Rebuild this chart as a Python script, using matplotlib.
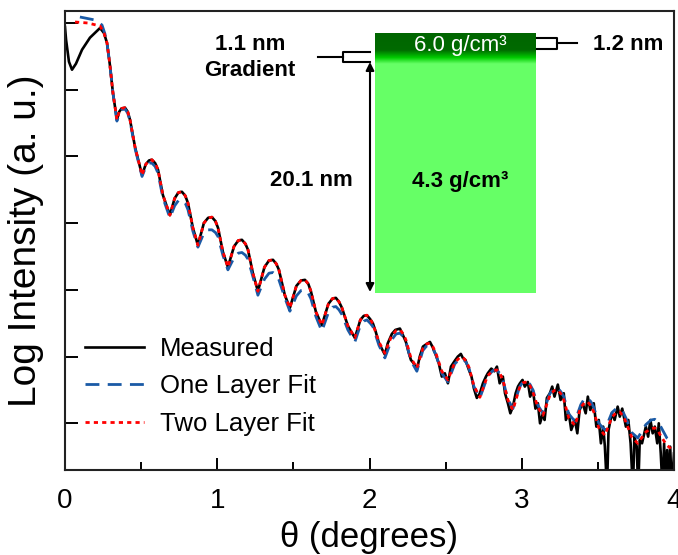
import numpy as np
import matplotlib
matplotlib.use("Agg")
import matplotlib.pyplot as plt
from matplotlib.colors import LinearSegmentedColormap

plt.rcParams['font.family'] = ['Liberation Sans', 'DejaVu Sans']

# angle grid shared by the fits (degrees)
fit_theta = [
    0.276, 0.295, 0.315, 0.341, 0.356, 0.372, 0.394, 0.412, 0.427, 0.460,
    0.506, 0.530, 0.552, 0.571, 0.592, 0.611, 0.643, 0.689, 0.720, 0.745,
    0.768, 0.790, 0.808, 0.840, 0.873, 0.912, 0.940, 0.965, 0.988, 1.005,
    1.037, 1.070, 1.110, 1.138, 1.162, 1.185, 1.202, 1.234, 1.267, 1.310,
    1.340, 1.366, 1.388, 1.405, 1.444, 1.477, 1.520, 1.550, 1.576, 1.598,
    1.615, 1.648, 1.687, 1.730, 1.757, 1.779, 1.800, 1.819, 1.858, 1.904,
    1.940, 1.962, 1.983, 2.005, 2.022, 2.062, 2.101, 2.145, 2.175, 2.200,
    2.222, 2.239, 2.272, 2.311, 2.350, 2.375, 2.397, 2.418, 2.436, 2.475,
    2.515, 2.560, 2.590, 2.613, 2.635, 2.653, 2.686, 2.725, 2.775, 2.810,
    2.837, 2.858, 2.876, 2.909, 2.942, 2.985, 3.010, 3.033, 3.055, 3.073,
    3.106, 3.139, 3.185, 3.212, 3.237, 3.258, 3.276, 3.309, 3.349, 3.388,
    3.412, 3.434, 3.455, 3.473, 3.506, 3.546, 3.592, 3.620, 3.644, 3.665,
    3.684, 3.723, 3.762, 3.815, 3.850, 3.874, 3.895, 3.913, 3.953, 3.992,
]
# log10 intensity of the two-layer fit
two_layer_log = [
    -0.30, -0.63, -1.05, -1.45, -1.33, -1.28, -1.27, -1.33, -1.45, -1.86,
    -2.28, -2.12, -2.06, -2.05, -2.10, -2.20, -2.58, -2.88, -2.63, -2.54,
    -2.53, -2.59, -2.70, -3.07, -3.33, -3.00, -2.92, -2.91, -2.97, -3.07,
    -3.43, -3.66, -3.35, -3.26, -3.25, -3.31, -3.40, -3.75, -4.02, -3.66,
    -3.56, -3.55, -3.61, -3.70, -4.08, -4.27, -3.94, -3.86, -3.85, -3.91,
    -4.02, -4.33, -4.53, -4.21, -4.13, -4.12, -4.18, -4.27, -4.54, -4.72,
    -4.45, -4.39, -4.38, -4.44, -4.51, -4.78, -4.95, -4.69, -4.61, -4.60,
    -4.66, -4.75, -5.02, -5.17, -4.88, -4.81, -4.80, -4.86, -4.95, -5.22,
    -5.35, -5.09, -5.02, -5.01, -5.07, -5.16, -5.44, -5.61, -5.29, -5.21,
    -5.20, -5.26, -5.35, -5.65, -5.80, -5.47, -5.39, -5.38, -5.44, -5.53,
    -5.76, -5.88, -5.58, -5.51, -5.50, -5.56, -5.65, -5.92, -6.03, -5.76,
    -5.69, -5.68, -5.74, -5.83, -6.07, -6.18, -5.91, -5.84, -5.83, -5.89,
    -5.98, -6.21, -6.30, -6.13, -6.08, -6.07, -6.11, -6.19, -6.33, -6.40,
]
# log10 intensity of the one-layer fit
one_layer_log = [
    -0.30, -0.63, -1.05, -1.47, -1.36, -1.30, -1.29, -1.35, -1.47, -1.88,
    -2.30, -2.16, -2.10, -2.10, -2.15, -2.25, -2.62, -2.92, -2.74, -2.66,
    -2.65, -2.70, -2.80, -3.12, -3.36, -3.15, -3.10, -3.10, -3.14, -3.20,
    -3.48, -3.70, -3.52, -3.45, -3.44, -3.48, -3.54, -3.80, -4.08, -3.84,
    -3.75, -3.74, -3.78, -3.85, -4.12, -4.32, -4.09, -4.01, -4.00, -4.05,
    -4.13, -4.40, -4.62, -4.34, -4.26, -4.25, -4.30, -4.37, -4.60, -4.78,
    -4.53, -4.47, -4.45, -4.50, -4.55, -4.83, -5.02, -4.75, -4.66, -4.65,
    -4.70, -4.77, -5.06, -5.22, -4.91, -4.84, -4.83, -4.89, -4.97, -5.25,
    -5.38, -5.11, -5.04, -5.03, -5.09, -5.17, -5.45, -5.62, -5.30, -5.21,
    -5.20, -5.26, -5.35, -5.64, -5.78, -5.46, -5.37, -5.36, -5.42, -5.50,
    -5.73, -5.85, -5.55, -5.48, -5.47, -5.53, -5.60, -5.86, -5.97, -5.72,
    -5.63, -5.62, -5.68, -5.76, -6.00, -6.10, -5.84, -5.78, -5.78, -5.83,
    -5.92, -6.14, -6.22, -6.02, -5.95, -5.94, -5.98, -6.05, -6.22, -6.30,
]
# low-angle part of each fit, before the shared grid
two_layer_start_theta = [0.066, 0.151, 0.230, 0.256]
two_layer_start_log = [0.015, 0.0, -0.045, -0.15]
one_layer_start_theta = [0.098, 0.197, 0.243, 0.262]
one_layer_start_log = [0.09, 0.045, -0.03, -0.16]

# measured data: below the critical angle, then the noisy tail above 2 deg
# (between these the measurement sits on the two-layer fit)
measured_start_theta = [0.000, 0.007, 0.026, 0.046, 0.072, 0.112, 0.164, 0.230, 0.256]
measured_start_log = [-0.06, -0.25, -0.58, -0.70, -0.61, -0.40, -0.22, -0.075, -0.15]
measured_tail_theta = [
    2.022, 2.040, 2.062, 2.080, 2.101, 2.120, 2.147, 2.170, 2.200, 2.220,
    2.239, 2.255, 2.272, 2.290, 2.311, 2.330, 2.351, 2.370, 2.397, 2.415,
    2.436, 2.455, 2.475, 2.495, 2.515, 2.535, 2.561, 2.580, 2.600, 2.613,
    2.630, 2.653, 2.670, 2.686, 2.705, 2.725, 2.745, 2.765, 2.777, 2.800,
    2.820, 2.837, 2.855, 2.876, 2.890, 2.909, 2.925, 2.942, 2.960, 2.975,
    2.988, 3.005, 3.020, 3.040, 3.055, 3.073, 3.090, 3.106, 3.120, 3.139,
    3.150, 3.165, 3.185, 3.200, 3.215, 3.237, 3.255, 3.276, 3.290, 3.309,
    3.325, 3.349, 3.365, 3.380, 3.400, 3.420, 3.434, 3.450, 3.473, 3.490,
    3.506, 3.520, 3.535, 3.546, 3.560, 3.570, 3.592, 3.610, 3.630, 3.644,
    3.660, 3.684, 3.700, 3.715, 3.730, 3.740, 3.755, 3.765, 3.775, 3.790,
    3.815, 3.830, 3.845, 3.860, 3.874, 3.890, 3.900, 3.913, 3.925, 3.935,
    3.945, 3.955, 3.965, 3.975, 3.985, 4.000,
]
measured_tail_log = [
    -4.50, -4.62, -4.80, -4.88, -4.97, -4.80, -4.66, -4.60, -4.58, -4.68,
    -4.78, -4.92, -5.05, -5.10, -5.20, -5.00, -4.85, -4.82, -4.78, -4.86,
    -4.98, -5.10, -5.30, -5.25, -5.40, -5.15, -5.06, -5.00, -4.96, -5.02,
    -5.05, -5.20, -5.30, -5.48, -5.62, -5.55, -5.40, -5.30, -5.25, -5.18,
    -5.22, -5.15, -5.40, -5.30, -5.55, -5.70, -5.85, -5.75, -5.55, -5.45,
    -5.40, -5.35, -5.45, -5.38, -5.60, -5.50, -5.78, -5.70, -6.00, -5.85,
    -5.95, -5.62, -5.55, -5.45, -5.60, -5.42, -5.65, -5.55, -5.95, -5.85,
    -6.10, -5.95, -6.15, -5.80, -5.70, -5.85, -5.60, -5.80, -5.70, -6.05,
    -5.95, -6.30, -6.05, -6.35, -7.00, -6.10, -5.85, -5.95, -5.75, -5.90,
    -5.78, -6.05, -5.95, -6.30, -7.00, -6.20, -6.35, -7.00, -6.25, -6.30,
    -6.05, -6.20, -5.95, -6.15, -6.05, -6.30, -6.00, -6.45, -7.00, -6.30,
    -7.00, -6.40, -7.00, -6.35, -7.00, -6.45,
]

series_labels = ["Measured", "One Layer Fit", "Two Layer Fit"]

fig = plt.figure(figsize=(6.78, 5.55), dpi=100)
ax = fig.add_axes([65 / 678, 1 - 470 / 555, 609 / 678, 459 / 555])

n_mid = sum(1 for t in fit_theta if t < 2.01)
meas_x = measured_start_theta + fit_theta[:n_mid] + measured_tail_theta
meas_y = 10.0 ** np.array(measured_start_log + two_layer_log[:n_mid] + measured_tail_log)
one_x = one_layer_start_theta + fit_theta
one_y = 10.0 ** np.array(one_layer_start_log + one_layer_log)
two_x = two_layer_start_theta + fit_theta
two_y = 10.0 ** np.array(two_layer_start_log + two_layer_log)

ax.plot(meas_x, meas_y, color='black', lw=1.9, label=series_labels[0], zorder=2)
ax.plot(one_x, one_y, color='#1a5aa6', lw=2.0, dashes=(5, 3), label=series_labels[1], zorder=3)
ax.plot(two_x, two_y, color='#ff0000', lw=2.0, dashes=(1.5, 1.5), label=series_labels[2], zorder=4)

ax.set_yscale('log')
ax.set_xlim(0, 4)
ax.set_ylim(10 ** -6.70, 10 ** 0.18)
ax.set_yticks([10.0 ** k for k in range(-6, 1)])
ax.yaxis.set_minor_locator(matplotlib.ticker.NullLocator())
ax.set_yticklabels([])
ax.set_xticks([0, 1, 2, 3, 4])
ax.set_xticks([0.5, 1.5, 2.5, 3.5], minor=True)
ax.tick_params(axis='both', which='major', direction='in', length=9, width=1.4,
               labelsize=20, pad=13)
ax.tick_params(axis='x', which='minor', direction='in', length=6, width=1.4)
for sp in ax.spines.values():
    sp.set_linewidth(1.5)
    sp.set_color('#222222')

ax.set_xlabel('θ (degrees)', fontsize=25, labelpad=5)
ax.set_ylabel('Log Intensity (a. u.)', fontsize=28, labelpad=2)

ax.legend(loc='lower left', bbox_to_anchor=(0.033, 0.075), frameon=False,
          fontsize=18.5, handlelength=2.3, handletextpad=0.6,
          labelspacing=0.52, borderpad=0, borderaxespad=0)

# film schematic drawn in pixel coordinates on an overlay
ov = fig.add_axes([0, 0, 1, 1], zorder=5)
ov.set_xlim(0, 678)
ov.set_ylim(555, 0)
ov.axis('off')
ov.patch.set_alpha(0)

ov.add_patch(plt.Rectangle((375, 33), 161, 260, color='#66ff66', lw=0))
band = LinearSegmentedColormap.from_list(
    'band', [(0.0, '#006600'), (0.55, '#006a00'), (0.8, '#00cc00'), (1.0, '#66ff66')])
grad = np.linspace(0, 1, 64).reshape(-1, 1)
ov.imshow(grad, cmap=band, extent=(375, 536, 64, 33), aspect='auto', zorder=2)

ov.annotate('', xy=(370, 62), xytext=(370, 292),
            arrowprops=dict(arrowstyle='<|-|>', color='black', lw=1.5,
                            mutation_scale=12, shrinkA=0, shrinkB=0))

# brackets for the interface layers
ov.plot([318, 343], [57, 57], color='black', lw=1.5)
ov.plot([370, 343, 343, 370], [52, 52, 62, 62], color='black', lw=1.5)
ov.plot([577, 557], [43, 43], color='black', lw=1.5)
ov.plot([537, 557, 557, 537], [38, 38, 49, 49], color='black', lw=1.5)

ov.text(250, 44, '1.1 nm', fontsize=16, fontweight='bold', ha='center', va='center')
ov.text(250, 70, 'Gradient', fontsize=16, fontweight='bold', ha='center', va='center')
ov.text(628, 44, '1.2 nm', fontsize=16, fontweight='bold', ha='center', va='center')
ov.text(460, 45, '6.0 g/cm³', fontsize=16, color='white', ha='center', va='center', zorder=3)
ov.text(460, 181, '4.3 g/cm³', fontsize=16, fontweight='bold', ha='center', va='center', zorder=3)
ov.text(311, 181, '20.1 nm', fontsize=16, fontweight='bold', ha='center', va='center')

fig.savefig('out.png', dpi=100)
